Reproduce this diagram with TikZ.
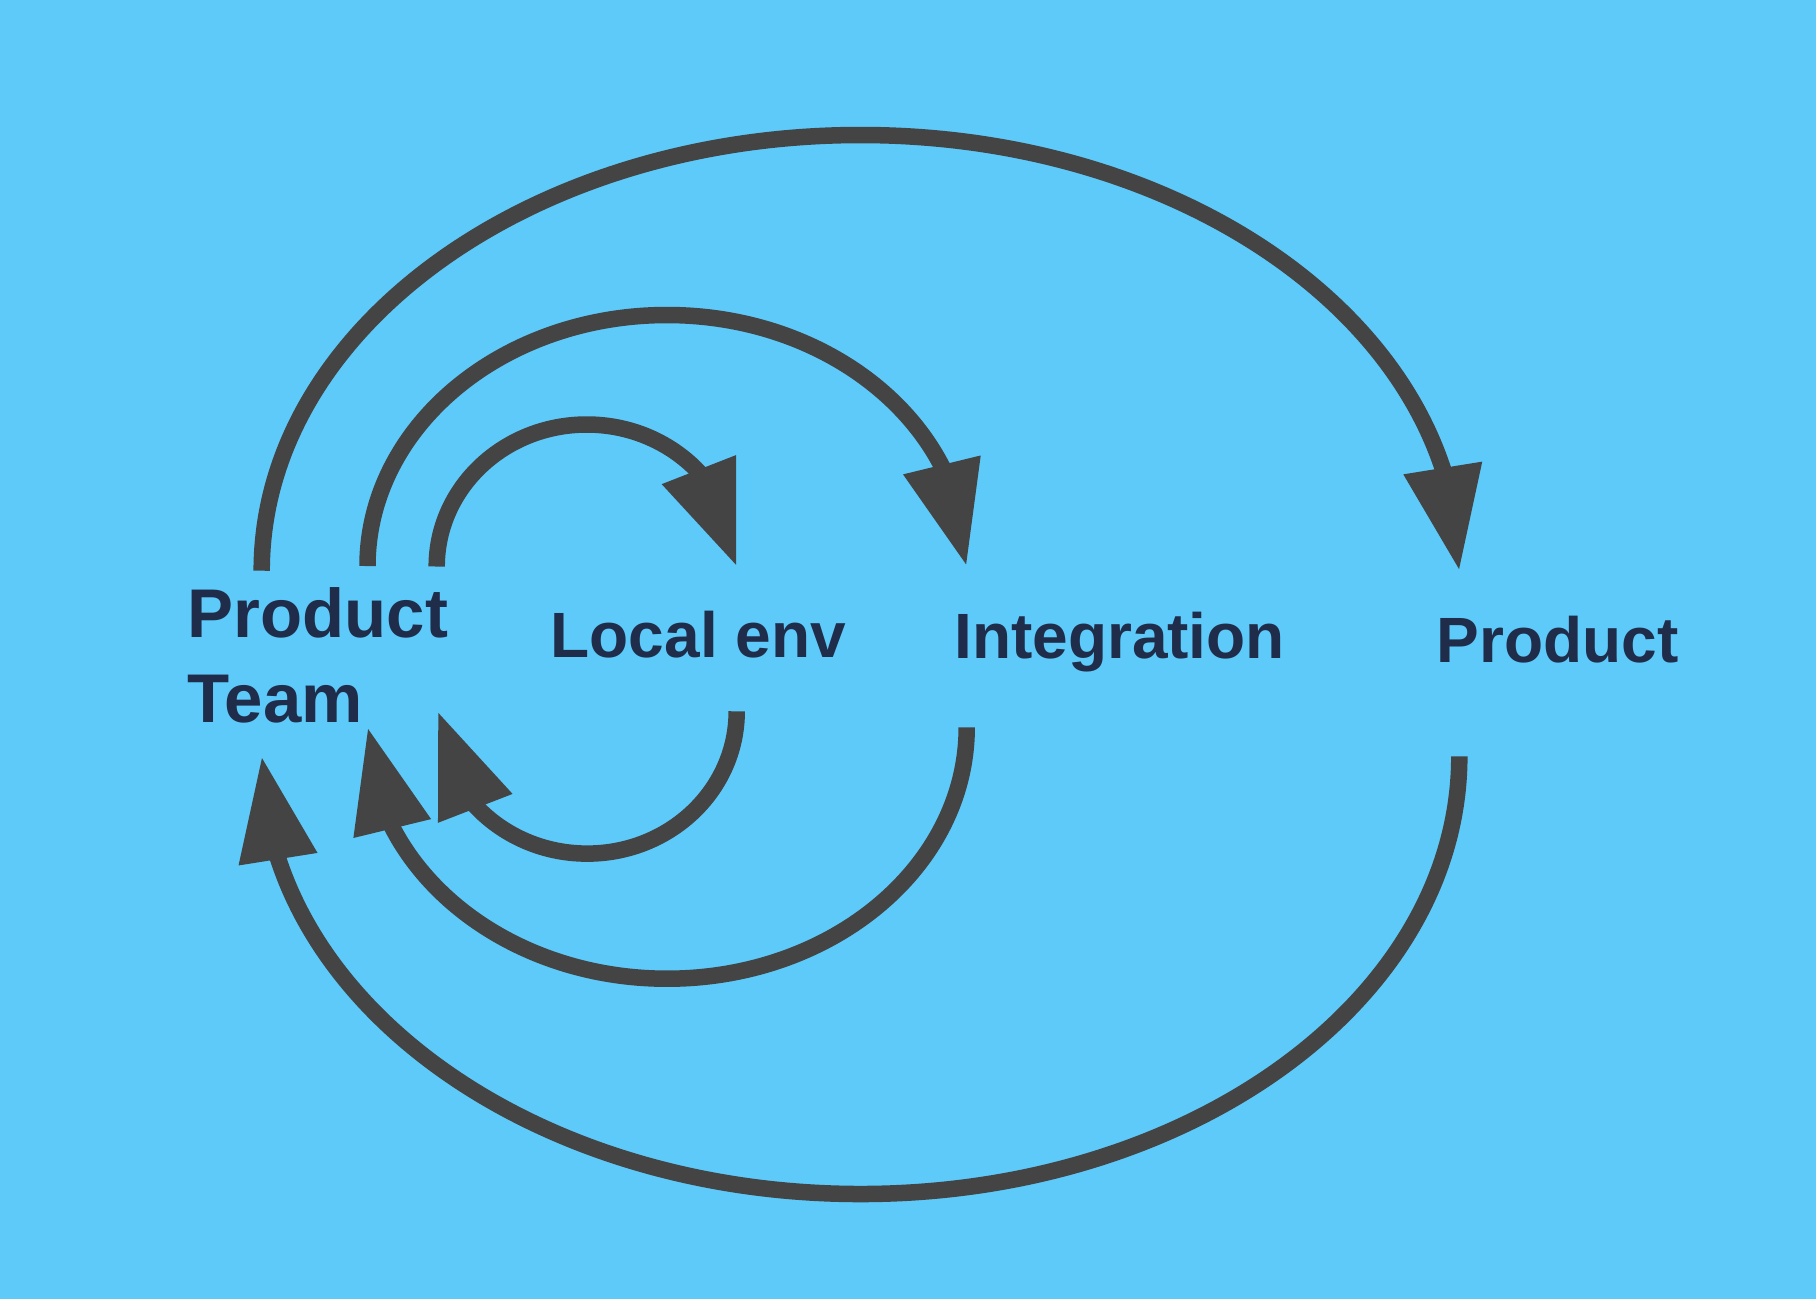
\documentclass[tikz,border=0pt]{standalone}
\usepackage{fontspec}
\setmainfont{Liberation Sans}
\usepackage{xcolor}
\usetikzlibrary{calc}
\usetikzlibrary{arrows.meta}
\usetikzlibrary{bending}

\definecolor{sky}{HTML}{5DCAFA}
\definecolor{loopgray}{HTML}{444444}
\definecolor{labelnavy}{HTML}{1F2D4B}

\begin{document}
\begin{tikzpicture}[x=0.01cm,y=-0.01cm]
    \tikzstyle{loop}=[-{Triangle[flex,length=1.04cm,width=0.75cm]},line width=0.165cm,color=loopgray]
    \tikzstyle{stage}=[anchor=base west,inner sep=0pt,text=labelnavy,font=\bfseries\fontsize{18.2}{22}\selectfont]

    % Background
    \fill[sky] (0,0) rectangle (1816,1299);
    \useasboundingbox (0,0) rectangle (1816,1299);

    % Stages
    \node[style=stage,align=left,font=\bfseries\fontsize{19.6}{24.3}\selectfont] (team) at (187,722.7) {Product\\Team};
    \node[style=stage] (local) at (550,657.7) {Local env};
    \node[style=stage] (integ) at (953.5,658.3) {Integration};
    \node[style=stage] (prod) at (1436,662.7) {Product};

    % Loop ends, top
    \coordinate (in-a) at (436.7,566.5);
    \coordinate (in-t) at (586.75,424.5);
    \coordinate (in-b) at (736.8,566.5);

    \coordinate (mid-a) at (367.5,566);
    \coordinate (mid-t) at (667,315);
    \coordinate (mid-b) at (966.5,566);

    \coordinate (out-a) at (261.7,570.7);
    \coordinate (out-t) at (860.5,135);
    \coordinate (out-b) at (1459.3,570.7);

    % Loop ends, bottom
    \coordinate (in-c) at (736.7,711.3);
    \coordinate (in-u) at (587.2,853.6);
    \coordinate (in-d) at (437.7,711.3);

    \coordinate (mid-c) at (966.7,727.4);
    \coordinate (mid-u) at (667.1,978.7);
    \coordinate (mid-d) at (367.7,727.4);

    \coordinate (out-c) at (1459.3,756.4);
    \coordinate (out-u) at (860.5,1194);
    \coordinate (out-d) at (261.7,756.4);

    % Forward loops
    \draw[style=loop] (in-a) .. controls +(0,-78.4) and +(-82.9,0) .. (in-t)
                             .. controls +(82.9,0) and +(0,-78.4) .. (in-b);
    \draw[style=loop] (mid-a) .. controls +(0,-138.6) and +(-165.4,0) .. (mid-t)
                              .. controls +(165.4,0) and +(0,-138.6) .. (mid-b);
    \draw[style=loop] (out-a) .. controls +(0,-240.6) and +(-330.7,0) .. (out-t)
                              .. controls +(330.7,0) and +(0,-240.6) .. (out-b);

    % Feedback loops
    \draw[style=loop] (in-c) .. controls +(0,78.7) and +(82.6,0) .. (in-u)
                             .. controls +(-82.6,0) and +(0,78.7) .. (in-d);
    \draw[style=loop] (mid-c) .. controls +(0,138.8) and +(165.4,0) .. (mid-u)
                              .. controls +(-165.4,0) and +(0,138.8) .. (mid-d);
    \draw[style=loop] (out-c) .. controls +(0,241.7) and +(330.7,0) .. (out-u)
                              .. controls +(-330.7,0) and +(0,241.7) .. (out-d);

\end{tikzpicture}
\end{document}
